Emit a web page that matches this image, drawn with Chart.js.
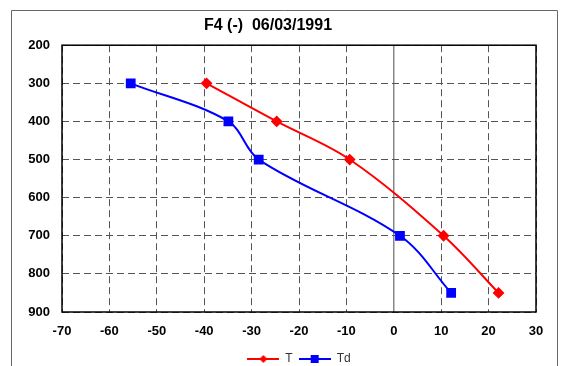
<!DOCTYPE html>
<html>
<head>
<meta charset="utf-8">
<script src="https://cdn.jsdelivr.net/npm/chart.js@4"></script>
<style>
  html, body { margin: 0; padding: 0; background: #fff; overflow: hidden; }
  #wrap { width: 564px; height: 366px; }
</style>
</head>
<body>
<div id="wrap"><canvas id="myChart" width="564" height="366"></canvas></div>
<script>
// 데이터
const pressureLevels = [300, 400, 500, 700, 850];
const tempT = [-39.5, -24.7, -9.3, 10.5, 22.1];
const tempTd = [-55.5, -34.9, -28.5, 1.3, 12.1];
const xTicks = [-70, -60, -50, -40, -30, -20, -10, 0, 10, 20, 30];
const yTicks = [200, 300, 400, 500, 600, 700, 800, 900];

const toPoints = (xs) => xs.map((x, i) => ({ x: x, y: pressureLevels[i] }));

// 범례 아이콘 (선 + 마커)
function legendIcon(color, style) {
  const c = document.createElement('canvas');
  c.width = 32; c.height = 10;
  const g = c.getContext('2d');
  g.strokeStyle = color; g.lineWidth = 2;
  g.beginPath(); g.moveTo(0, 5); g.lineTo(32, 5); g.stroke();
  g.fillStyle = color;
  if (style === 'rect') {
    g.fillRect(12, 1, 8, 8);
  } else {
    g.beginPath(); g.moveTo(16, 1); g.lineTo(20, 5); g.lineTo(16, 9); g.lineTo(12, 5); g.closePath(); g.fill();
  }
  return c;
}

// 테두리 그리기
const framePlugin = {
  id: 'frame',
  beforeDraw(chart) {
    const g = chart.ctx;
    g.save();
    g.strokeStyle = '#666'; g.lineWidth = 1;
    g.beginPath();
    g.moveTo(11.5, 370); g.lineTo(11.5, 10.5); g.lineTo(557.5, 10.5); g.lineTo(557.5, 370);
    g.stroke();
    g.restore();
  },
  afterDatasetsDraw(chart) {
    const a = chart.chartArea;
    const g = chart.ctx;
    g.save();
    g.strokeStyle = '#000'; g.lineWidth = 1.5;
    g.strokeRect(a.left, a.top, a.right - a.left, a.bottom - a.top);
    g.restore();
  }
};

const ctx = document.getElementById('myChart').getContext('2d');
const myChart = new Chart(ctx, {
  type: 'scatter',
  data: {
    datasets: [{
      label: 'T',
      data: toPoints(tempT),
      showLine: true,
      borderColor: '#ff0000',
      backgroundColor: '#ff0000',
      borderWidth: 2,
      pointStyle: 'rectRot',
      pointRadius: 4.5,
      tension: 0.35
    }, {
      label: 'Td',
      data: toPoints(tempTd),
      showLine: true,
      borderColor: '#0000ff',
      backgroundColor: '#0000ff',
      borderWidth: 2,
      pointStyle: 'rect',
      pointRadius: 5.5,
      tension: 0.35
    }]
  },
  options: {
    responsive: false,
    animation: false,
    layout: { padding: { left: 0, right: 28, top: 0, bottom: -9 } },
    plugins: {
      title: {
        display: true,
        text: 'F4 (-)  06/03/1991',
        color: '#000',
        font: { family: 'Arial, "Liberation Sans"', size: 16, weight: 'bold' },
        padding: { top: 16, bottom: 10 }
      },
      legend: {
        position: 'bottom',
        fullSize: false,
        labels: {
          color: '#333',
          font: { family: 'Arial, "Liberation Sans"', size: 12 },
          usePointStyle: true,
          pointStyleWidth: 32,
          boxHeight: 10,
          padding: 6,
          generateLabels(chart) {
            return chart.data.datasets.map((ds, i) => ({
              text: ds.label,
              pointStyle: legendIcon(ds.borderColor, ds.pointStyle),
              fillStyle: ds.borderColor,
              strokeStyle: ds.borderColor,
              lineWidth: 0,
              datasetIndex: i,
              fontColor: '#333'
            }));
          }
        }
      },
      tooltip: { enabled: false }
    },
    scales: {
      x: {
        type: 'linear',
        min: -70, max: 30,
        afterBuildTicks: (s) => { s.ticks = xTicks.map(v => ({ value: v })); },
        ticks: {
          color: '#000',
          padding: 12,
          font: { family: 'Arial, "Liberation Sans"', size: 13, weight: 'bold' }
        },
        grid: {
          drawTicks: false,
          color: (c) => (c.tick && c.tick.value === 0) ? '#888' : '#555',
          lineWidth: (c) => (c.tick && c.tick.value === 0) ? 1.5 : 1
        },
        border: {
          display: false,
          dash: (c) => (c.tick && c.tick.value === 0) ? [] : [7, 4]
        },
        afterFit: (s) => { s.height = 35; }
      },
      y: {
        type: 'linear',
        reverse: true,
        min: 200, max: 900,
        afterBuildTicks: (s) => { s.ticks = yTicks.map(v => ({ value: v })); },
        ticks: {
          color: '#000',
          padding: 12,
          font: { family: 'Arial, "Liberation Sans"', size: 13, weight: 'bold' }
        },
        grid: { drawTicks: false, color: '#555', lineWidth: 1 },
        border: { display: false, dash: [7, 4] },
        afterFit: (s) => { s.width = 62; }
      }
    }
  },
  plugins: [framePlugin]
});
</script>
</body>
</html>
